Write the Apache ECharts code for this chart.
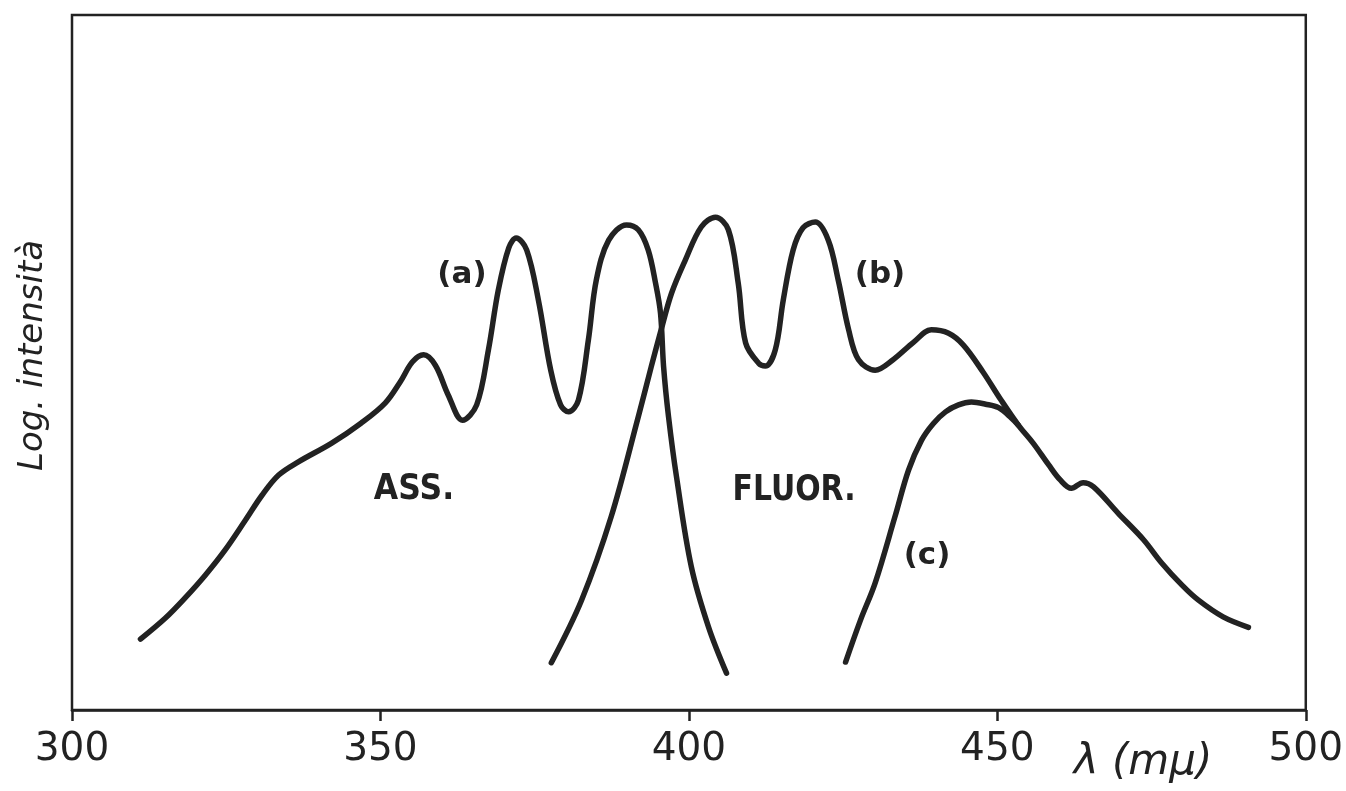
<!DOCTYPE html>
<html>
<head>
<meta charset="utf-8">
<script src="https://cdn.jsdelivr.net/npm/echarts@6/dist/echarts.min.js"></script>
<style>
html,body{margin:0;padding:0;background:#fff;}
#chart{width:1346px;height:791px;}
</style>
</head>
<body>
<div id="chart"></div>
<script>
// wavelength (mμ), log-intensity (arbitrary units, 0 = bottom of frame, 100 = top)
const curveA = [ // absorption (a)
  [311.1,10.2],[315.1,13.2],[318.3,16.1],[321.6,19.4],[324.8,23.0],[328.1,27.3],
  [330.8,30.9],[333.5,33.8],[336.7,35.7],[342.1,38.4],[346.9,41.3],[350.8,44.2],[353.2,47.2],
  [355.2,50.1],[357.0,51.1],[358.9,49.6],[361.0,45.3],[363.3,41.7],[365.6,43.9],
  [367.5,51.8],[369.1,60.4],[370.8,66.5],[372.0,67.9],[373.7,66.2],[375.6,59.0],
  [377.6,48.9],[379.2,43.9],[380.5,42.9],[382.1,44.6],[383.7,53.2],[385.0,61.9],
  [387.0,67.6],[389.9,69.8],[391.8,69.1],[393.4,66.2],[394.6,61.4],[395.4,57.1],
  [395.9,49.4],[396.7,42.2],[398.0,33.5],[400.4,20.6],[403.2,11.9],[406.1,5.3]
];
const curveB = [ // fluorescence (b)
  [377.7,6.8],[382.6,15.8],[387.4,27.8],[391.8,42.2],[393.9,49.4],[395.5,54.7],
  [397.2,60.0],[399.4,64.7],[402.0,69.5],[404.3,70.9],[406.4,69.1],[408.0,61.4],
  [409.2,52.8],[411.3,49.9],[412.4,49.5],[414.0,51.8],
  [415.3,59.0],[416.9,66.2],[418.5,69.4],[420.5,70.2],[422.6,67.6],[424.2,61.9],
  [425.9,54.7],[427.5,50.4],[430.2,48.9],[433.1,50.4],[436.4,52.9],[439.3,54.7],
  [442.1,54.2],[444.5,52.5],[447.7,48.6],[450.6,44.6],[453.4,41.0],[455.8,38.4],
  [458.3,35.3],[460.2,33.1],[462.0,31.9],[463.9,32.7],[465.6,32.1],[469.6,28.3],
  [473.7,24.5],[476.6,21.2],[479.9,18.0],[482.6,15.8],[486.6,13.4],[490.7,11.9]
];
const curveC = [ // (c)
  [425.4,6.9],[427.8,12.9],[430.2,18.3],[433.4,27.8],[435.6,34.5],[437.7,38.8],
  [439.6,41.2],[441.6,42.9],[443.7,43.9],[445.8,44.3],[448.1,44.0],[450.2,43.5],
  [452.3,42.0],[453.4,41.0]
];
const xTickLabels = [300, 350, 400, 450, 500];
const curveNames = ['(a)', '(b)', '(c)'];

const ink = '#222';
const chart = echarts.init(document.getElementById('chart'), null, {renderer: 'canvas'});

function lineSeries(name, data) {
  return {
    name: name, type: 'line', data: data, smooth: 0.35, showSymbol: false,
    lineStyle: {color: ink, width: 5.5, cap: 'round', join: 'round'},
    silent: true, animation: false
  };
}

const texts = [
  {type: 'text', x: 33, y: 471, rotation: Math.PI / 2,
    style: {text: 'Log. intensità', fill: ink, fontFamily: 'DejaVu Sans', fontStyle: 'italic', fontSize: 34, align: 'left', verticalAlign: 'middle'}},
  {type: 'text', x: 462, y: 275, style: {text: curveNames[0], fill: ink, fontFamily: 'DejaVu Sans', fontWeight: 'bold', fontSize: 31, align: 'center', verticalAlign: 'middle'}},
  {type: 'text', x: 880, y: 275, style: {text: curveNames[1], fill: ink, fontFamily: 'DejaVu Sans', fontWeight: 'bold', fontSize: 31, align: 'center', verticalAlign: 'middle'}},
  {type: 'text', x: 927, y: 556, style: {text: curveNames[2], fill: ink, fontFamily: 'DejaVu Sans', fontWeight: 'bold', fontSize: 31, align: 'center', verticalAlign: 'middle'}},
  {type: 'text', x: 414, y: 490, scaleX: 0.9, style: {text: 'ASS.', fill: ink, fontFamily: 'DejaVu Sans', fontWeight: 'bold', fontSize: 35, align: 'center', verticalAlign: 'middle'}},
  {type: 'text', x: 794, y: 491, scaleX: 0.83, style: {text: 'FLUOR.', fill: ink, fontFamily: 'DejaVu Sans', fontWeight: 'bold', fontSize: 36, align: 'center', verticalAlign: 'middle'}},
  {type: 'text', x: 1143, y: 763, style: {text: 'λ (mμ)', fill: ink, fontFamily: 'DejaVu Sans', fontStyle: 'italic', fontSize: 42, align: 'center', verticalAlign: 'middle'}}
];

chart.setOption({
  backgroundColor: '#fff',
  animation: false,
  grid: {left: 72, right: 39, top: 15, bottom: 81, show: true, borderColor: ink, borderWidth: 2.5, backgroundColor: 'transparent'},
  xAxis: {
    type: 'value', min: 300, max: 500, interval: 50,
    axisLine: {show: true, lineStyle: {color: ink, width: 2.5}},
    axisTick: {show: true, inside: false, length: 11, lineStyle: {color: ink, width: 2.5}},
    axisLabel: {show: true, margin: 20, color: ink, fontFamily: 'DejaVu Sans', fontSize: 39,
      formatter: v => (xTickLabels.indexOf(v) >= 0 ? String(v) : '')},
    splitLine: {show: false}
  },
  yAxis: {
    type: 'value', min: 0, max: 100,
    axisLine: {show: false}, axisTick: {show: false}, axisLabel: {show: false}, splitLine: {show: false}
  },
  series: [
    lineSeries(curveNames[0], curveA),
    lineSeries(curveNames[1], curveB),
    lineSeries(curveNames[2], curveC)
  ],
  graphic: texts
});
</script>
</body>
</html>
